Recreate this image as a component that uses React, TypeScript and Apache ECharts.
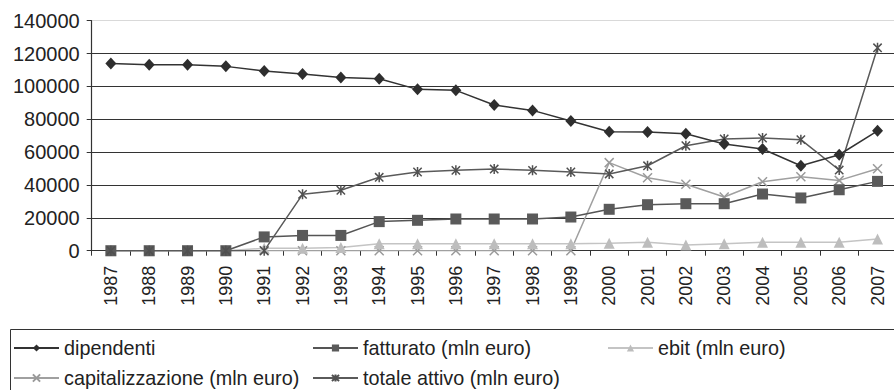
import React, { useEffect, useRef } from "react";
import * as echarts from "echarts";

const years = ["1987","1988","1989","1990","1991","1992","1993","1994","1995","1996","1997","1998","1999","2000","2001","2002","2003","2004","2005","2006","2007"];
const dipendenti = [114000,113200,113200,112200,109400,107500,105500,104700,98200,97600,88700,85400,78900,72400,72200,71200,64900,61900,51700,58400,73000];
const fatturato = [0,0,0,0,8400,9300,9300,17700,18500,19300,19300,19300,20500,25200,28000,28600,28600,34500,32100,37100,42200];
const ebit = [0,0,0,0,1500,1500,2000,4200,4300,4300,4300,4300,4300,4500,5100,3500,4300,5100,5100,5100,7100];
const capitalizzazione = [0,0,0,0,0,0,0,0,0,0,0,0,0,53600,44400,40400,32700,42000,45000,42800,49900];
const totaleAttivo = [0,0,0,0,0,34300,36800,44700,47900,48900,49700,48900,47900,46700,51700,63900,68000,68600,67600,49100,123500];
const yTicks = [0,20000,40000,60000,80000,100000,120000,140000];

const FONT = "'Liberation Sans', Arial, sans-serif";
const X_PATH = "path://M0,0L10,10M10,0L0,10";
const STAR_PATH = "path://M0,0L10,10M10,0L0,10M5,-1L5,11";

export default function App() {
  const ref = useRef<HTMLDivElement>(null);
  useEffect(() => {
    if (!ref.current) return;
    const chart = echarts.init(ref.current, null, { renderer: "svg" });
    const mk = (name: string, data: number[], color: string, lineColor: string, symbol: string, size: number | number[], stroke: boolean) => ({
      name,
      type: "line",
      data,
      symbol,
      symbolSize: size,
      symbolKeepAspect: true,
      lineStyle: { color: lineColor, width: 1.5 },
      itemStyle: stroke
        ? { color: color, borderColor: color, borderWidth: 1.5 }
        : { color: color, borderWidth: 0 },
      emphasis: { disabled: true },
    });
    const legendItem = (name: string, left: number, top: number) => ({
      data: [name],
      left,
      top,
      padding: 0,
      itemWidth: 45,
      itemHeight: 9,
      itemGap: 0,
      selectedMode: false,
      textStyle: { fontFamily: FONT, fontSize: 19.8, color: "#222", lineHeight: 20 },
    });
    chart.setOption({
      animation: false,
      backgroundColor: "#fff",
      grid: { left: 91.7, top: 20.7, width: 805, height: 230 },
      xAxis: {
        type: "category",
        data: years,
        boundaryGap: true,
        axisLine: { lineStyle: { color: "#333", width: 1.2 } },
        axisTick: { show: true, length: 5, lineStyle: { color: "#333" } },
        axisLabel: { rotate: 90, margin: 15, fontFamily: FONT, fontSize: 18, color: "#222" },
      },
      yAxis: {
        type: "value",
        min: yTicks[0],
        max: yTicks[yTicks.length - 1],
        interval: yTicks[1] - yTicks[0],
        axisLine: { show: true, lineStyle: { color: "#333", width: 1.2 } },
        axisTick: { show: true, length: 5, lineStyle: { color: "#333" } },
        axisLabel: { margin: 12, fontFamily: FONT, fontSize: 20, color: "#222", formatter: (v: number) => String(v) },
        splitLine: {
          show: true,
          lineStyle: { color: ["#333", "#333", "#333", "#333", "#333", "#333", "#333", "#d9d9d9"], width: 1.2 },
        },
      },
      legend: [
        legendItem("dipendenti", 13, 338),
        legendItem("fatturato (mln euro)", 312, 338),
        legendItem("ebit (mln euro)", 607, 338),
        legendItem("capitalizzazione (mln euro)", 13, 368),
        legendItem("totale attivo (mln euro)", 312, 368),
      ],
      graphic: [
        {
          type: "rect",
          shape: { x: 10.5, y: 329.5, width: 900, height: 100 },
          style: { fill: "none", stroke: "#333", lineWidth: 1 },
          silent: true,
        },
      ],
      series: [
        mk("capitalizzazione (mln euro)", capitalizzazione, "#9a9a9a", "#a0a0a0", X_PATH, 9, true),
        mk("ebit (mln euro)", ebit, "#bdbdbd", "#c4c4c4", "triangle", 11, false),
        mk("fatturato (mln euro)", fatturato, "#5a5a5a", "#555", "rect", 11, false),
        mk("totale attivo (mln euro)", totaleAttivo, "#505050", "#5a5a5a", STAR_PATH, 10, true),
        mk("dipendenti", dipendenti, "#2e2e2e", "#333", "diamond", [11, 12], false),
      ],
    });
    return () => chart.dispose();
  }, []);
  return (
    <div style={{ position: "fixed", left: 0, top: 0, width: 894, height: 390, overflow: "hidden", background: "#fff" }}>
      <div ref={ref} style={{ width: 900, height: 390 }} />
    </div>
  );
}
